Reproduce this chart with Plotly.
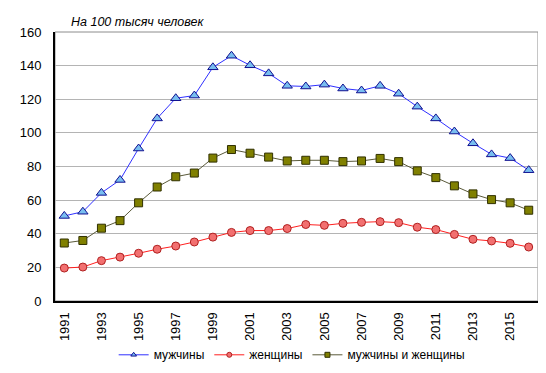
import plotly.graph_objects as go

years = list(range(1991, 2017))
men = [50.6, 53.1, 64.3, 72.0, 90.7, 108.6, 120.6, 122.2, 139.0, 145.9, 140.2, 135.4, 128.0,
       127.6, 128.7, 126.4, 125.2, 128.0, 123.3, 115.6, 108.6, 100.8, 93.8, 87.2, 85.0, 77.8]
women = [19.6, 20.2, 24.0, 26.1, 28.4, 30.8, 32.7, 35.1, 38.0, 40.8, 41.9, 41.9, 43.1,
         45.5, 45.0, 46.2, 46.8, 47.2, 46.6, 43.9, 42.5, 39.6, 36.7, 35.7, 34.3, 32.1]
both = [34.5, 36.0, 43.3, 47.8, 58.4, 67.8, 73.9, 76.1, 85.0, 90.1, 87.9, 85.6, 83.3,
        83.7, 83.7, 82.9, 83.3, 84.8, 82.9, 77.4, 73.4, 68.5, 63.7, 60.3, 58.4, 54.0]
names = ["мужчины", "женщины", "мужчины и женщины"]
title_text = "На 100 тысяч человек"
xtick_vals = list(range(1991, 2016, 2))
ytick_vals = list(range(0, 161, 20))

font = "Liberation Sans, Arial, sans-serif"

styles = [
    dict(line=dict(color="#3030FF", width=1), symbol="triangle-up", fill="#78BEF0", edge="#101090", size=9),
    dict(line=dict(color="#FF2020", width=1), symbol="circle", fill="#F27070", edge="#B02020", size=8),
    dict(line=dict(color="#5A5A3A", width=1), symbol="square", fill="#808000", edge="#303000", size=8),
]
series = [men, women, both]

fig = go.Figure()
for name, vals, st in zip(names, series, styles):
    fig.add_trace(go.Scatter(x=years, y=vals, name=name, mode="lines+markers", showlegend=False,
                             line=st["line"],
                             marker=dict(symbol=st["symbol"], size=st["size"], color=st["fill"],
                                         line=dict(color=st["edge"], width=1))))
# legend entries with small markers, as in the reference
for name, st in zip(names, styles):
    fig.add_trace(go.Scatter(x=[None], y=[None], name=name, mode="lines+markers",
                             line=st["line"],
                             marker=dict(symbol=st["symbol"], size=5, color=st["fill"],
                                         line=dict(color=st["edge"], width=1))))

fig.update_layout(
    width=546, height=373,
    margin=dict(l=45, r=16, t=24, b=73),
    paper_bgcolor="white", plot_bgcolor="white",
    font=dict(family=font, size=13, color="black"),
    showlegend=True,
    legend=dict(orientation="h", x=0.49, xanchor="center", y=-0.2, yanchor="middle",
                font=dict(size=12), tracegroupgap=0),
    xaxis=dict(range=[1990.5, 2016.5], tickmode="array", tickvals=xtick_vals,
               ticktext=[str(v) for v in xtick_vals], tickangle=-90,
               showgrid=False, zeroline=False, showline=True, linecolor="black",
               linewidth=2, ticks="", ticklabelstandoff=4, tickfont=dict(size=13)),
    yaxis=dict(range=[0, 160], tickmode="array", tickvals=ytick_vals,
               showgrid=True, gridcolor="#B4B4B4", gridwidth=1, zeroline=False,
               showline=True, linecolor="black", linewidth=2, ticks="",
               ticklabelstandoff=9, tickfont=dict(size=13)),
    shapes=[dict(type="rect", xref="paper", yref="paper", x0=0, y0=0, x1=1, y1=1,
                 line=dict(color="#8C8C8C", width=1), layer="below")],
    annotations=[dict(text=title_text, xref="paper", yref="paper", x=0.03, y=1,
                      xanchor="left", yanchor="bottom", yshift=1, showarrow=False,
                      font=dict(size=12.5, family=font, style="italic"))],
)

fig.write_html("out.html")
